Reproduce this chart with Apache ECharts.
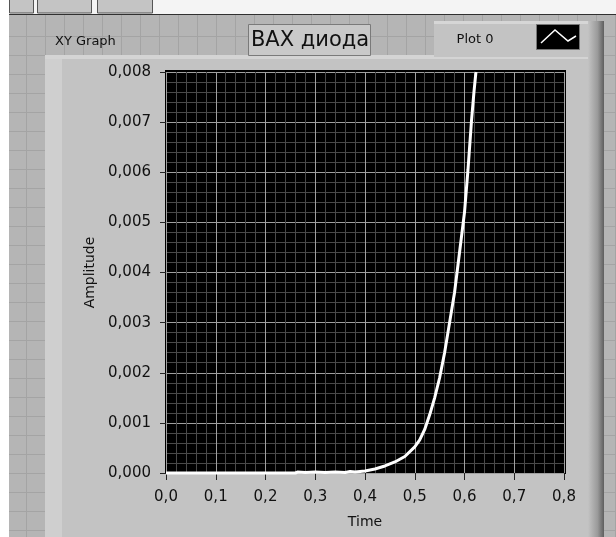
<!DOCTYPE html>
<html><head><meta charset="utf-8">
<script src="https://cdn.jsdelivr.net/npm/echarts@6/dist/echarts.min.js"></script>
<style>html,body{margin:0;padding:0;background:#fff}#c{width:616px;height:537px}</style>
</head><body><div id="c"></div>
<script>
// Data (voltage -> current)
const timeValues = [0, 0.1, 0.2, 0.26, 0.265, 0.28, 0.30, 0.32, 0.34, 0.36, 0.37, 0.38, 0.40, 0.42, 0.44, 0.46, 0.48, 0.50, 0.51, 0.52, 0.53, 0.54, 0.55, 0.56, 0.57, 0.58, 0.59, 0.60, 0.607, 0.614, 0.619, 0.623];
const amplitudeValues = [0, 0, 0, 0, 0.00002, 0.00001, 0.00002, 0.00001, 0.00002, 0.00001, 0.00003, 0.00002, 0.00004, 0.00008, 0.00014, 0.00022, 0.00033, 0.00052, 0.00066, 0.00087, 0.00116, 0.00150, 0.00190, 0.00240, 0.00300, 0.00360, 0.00440, 0.00520, 0.00605, 0.00702, 0.00760, 0.00800];
const xTickLabels = ['0,0','0,1','0,2','0,3','0,4','0,5','0,6','0,7','0,8'];
const yTickLabels = ['0,000','0,001','0,002','0,003','0,004','0,005','0,006','0,007','0,008'];
const graphLabel = 'XY Graph';
const chartTitle = 'ВАХ диода';
const legendName = 'Plot 0';
const xName = 'Time';
const yName = 'Amplitude';

const points = timeValues.map((t, i) => [t, amplitudeValues[i]]);

// Decorative panel (front-panel grid)
const deco = [];
deco.push({type:'rect', z:-20, shape:{x:0,y:0,width:616,height:537}, style:{fill:'#b5b5b5'}});
for (let x = 26; x < 616; x += 19) deco.push({type:'line', z:-19, shape:{x1:x+0.5,y1:15,x2:x+0.5,y2:537}, style:{stroke:'#a4a4a4',lineWidth:1}});
for (let y = 36; y < 537; y += 19) deco.push({type:'line', z:-19, shape:{x1:0,y1:y+0.5,x2:616,y2:y+0.5}, style:{stroke:'#a4a4a4',lineWidth:1}});
// top white strip + tabs
deco.push({type:'rect', z:-18, shape:{x:0,y:0,width:616,height:14}, style:{fill:'#f4f4f4'}});
deco.push({type:'rect', z:-18, shape:{x:0,y:0,width:9,height:537}, style:{fill:'#ffffff'}});
deco.push({type:'line', z:-17, shape:{x1:9,y1:14.5,x2:616,y2:14.5}, style:{stroke:'#303030',lineWidth:1}});
[[9,24],[37,54],[97,55]].forEach(b => deco.push({type:'rect', z:-17, shape:{x:b[0]+0.5,y:-2,width:b[1],height:15}, style:{fill:'#c4c4c4',stroke:'#555',lineWidth:1}}));
// graph frame
deco.push({type:'rect', z:-16, shape:{x:45,y:55,width:559,height:482}, style:{fill:'#c3c3c3'}});
deco.push({type:'rect', z:-15, shape:{x:45,y:55,width:17,height:482}, style:{fill:'#cfcfcf'}});
deco.push({type:'rect', z:-15, shape:{x:45,y:55,width:545,height:4}, style:{fill:'#d4d4d4'}});
deco.push({type:'rect', z:-15, shape:{x:588,y:55,width:16,height:482}, style:{fill:{type:'linear',x:0,y:0,x2:1,y2:0,colorStops:[{offset:0,color:'#c3c3c3'},{offset:0.6,color:'#9a9a9a'},{offset:1,color:'#5e5e5e'}]}}});
// legend panel
deco.push({type:'rect', z:-14, shape:{x:434,y:21,width:170,height:36}, style:{fill:'#c3c3c3'}});
deco.push({type:'rect', z:-13, shape:{x:434,y:21,width:156,height:3}, style:{fill:'#d6d6d6'}});
deco.push({type:'rect', z:-13, shape:{x:588,y:21,width:16,height:36}, style:{fill:{type:'linear',x:0,y:0,x2:1,y2:0,colorStops:[{offset:0,color:'#c3c3c3'},{offset:0.6,color:'#9a9a9a'},{offset:1,color:'#5e5e5e'}]}}});
deco.push({type:'rect', z:-12, shape:{x:536.5,y:24.5,width:43,height:25}, style:{fill:'#000',stroke:'#777',lineWidth:1}});
deco.push({type:'polyline', z:-11, shape:{points:[[541,43],[555,30],[568,41],[576,36]]}, style:{stroke:'#ffffff',lineWidth:1.5,fill:null}});
deco.push({type:'text', z:-11, x:475, y:40, style:{text:legendName, font:'13px "DejaVu Sans"', fill:'#111', align:'center', verticalAlign:'middle'}});
// title box
deco.push({type:'rect', z:-12, shape:{x:248.5,y:24.5,width:122,height:31}, style:{fill:'#c9c9c9',stroke:'#7a7a7a',lineWidth:1}});
deco.push({type:'text', z:-11, x:310, y:41, style:{text:chartTitle, font:'21px "DejaVu Sans"', fill:'#111', align:'center', verticalAlign:'middle'}});
deco.push({type:'text', z:-11, x:55, y:42, style:{text:graphLabel, font:'13px "DejaVu Sans"', fill:'#111', align:'left', verticalAlign:'middle'}});
// black plot background slightly larger than grid
deco.push({type:'rect', z:-10, shape:{x:165,y:70,width:401,height:404}, style:{fill:'#000'}});

const chart = echarts.init(document.getElementById('c'), null, {renderer:'canvas'});
chart.setOption({
  animation:false,
  backgroundColor:'transparent',
  graphic: deco,
  grid:{left:166, top:72, width:398, height:401, show:false, containLabel:false},
  xAxis:{
    type:'value', min:0, max:0.8, interval:0.1, offset:4,
    name:xName, nameLocation:'middle', nameGap:38,
    nameTextStyle:{fontFamily:'DejaVu Sans', fontSize:14, color:'#111', padding:[0,0,0,0]},
    axisLine:{show:false},
    axisTick:{show:true, length:7, lineStyle:{color:'#222', width:1}},
    axisLabel:{margin:13, fontFamily:'DejaVu Sans', fontSize:15, color:'#111',
      formatter:(v)=>xTickLabels[Math.round(v*10)]},
    splitLine:{show:true, lineStyle:{color:'#a0a0a0', width:1}},
    minorTick:{show:false, splitNumber:5},
    minorSplitLine:{show:true, lineStyle:{color:'#4a4a4a', width:1}}
  },
  yAxis:{
    type:'value', min:0, max:0.008, interval:0.001, offset:3,
    name:yName, nameLocation:'middle', nameGap:64, nameRotate:90,
    nameTextStyle:{fontFamily:'DejaVu Sans', fontSize:14, color:'#111'},
    axisLine:{show:false},
    axisTick:{show:true, length:6, lineStyle:{color:'#222', width:1}},
    axisLabel:{margin:12, fontFamily:'DejaVu Sans', fontSize:15, color:'#111',
      formatter:(v)=>yTickLabels[Math.round(v*1000)]},
    splitLine:{show:true, lineStyle:{color:'#a0a0a0', width:1}},
    minorTick:{show:false, splitNumber:5},
    minorSplitLine:{show:true, lineStyle:{color:'#4a4a4a', width:1}}
  },
  series:[{
    name:legendName, type:'line', data:points, showSymbol:false, smooth:false,
    lineStyle:{color:'#ffffff', width:3}, clip:false, z:5
  }]
});
</script></body></html>
